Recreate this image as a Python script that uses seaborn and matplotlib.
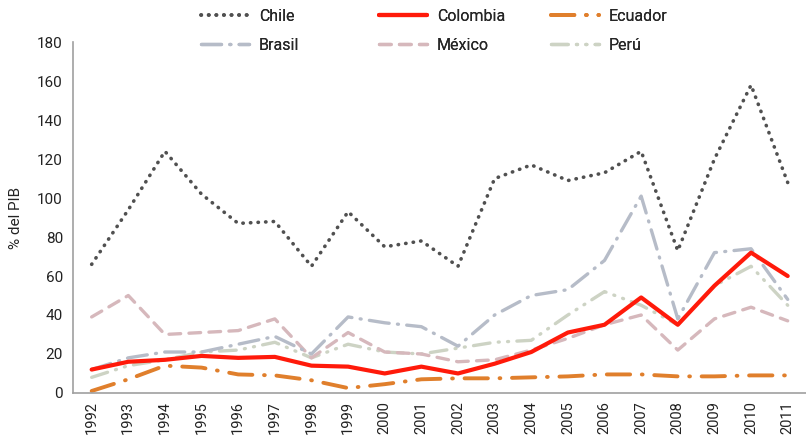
import numpy as np
import pandas as pd
import matplotlib
matplotlib.use("Agg")
import matplotlib.pyplot as plt
import seaborn as sns

years = list(range(1992, 2012))

chile    = [66, 94, 124, 102, 87, 88, 65, 93, 75, 78, 65, 110, 117, 109, 113, 124, 73, 120, 158, 108]
colombia = [12, 16, 17, 19, 18, 18.5, 14, 13.5, 10, 13.5, 10, 15, 21, 31, 35, 49, 35, 55, 72, 60]
ecuador  = [1, 7, 14, 13, 9.5, 9, 6.5, 2.5, 4.5, 7, 7.5, 7.5, 8, 8.5, 9.5, 9.5, 8.5, 8.5, 9, 9]
brasil   = [12, 18, 21, 21, 25, 29, 20, 39, 36, 34, 24, 40, 50, 53, 68, 101, 38, 72, 74, 48]
mexico   = [39, 50, 30, 31, 32, 38, 18, 31, 21, 20, 16, 17, 22, 28, 35, 40, 22, 38, 44, 37]
peru     = [8, 14, 17, 21, 22, 26, 18, 25, 21, 20, 23, 26, 27, 40, 52, 45, 35, 55, 65, 45]

series = {
    "Chile": chile,
    "Brasil": brasil,
    "Colombia": colombia,
    "México": mexico,
    "Ecuador": ecuador,
    "Perú": peru,
}

# estilo de cada serie
styles = {
    "Chile":    dict(color="#505050", lw=2.6, dashes=(0.1, 2.0)),
    "Brasil":   dict(color="#b6bcc8", lw=2.4, dashes=(6, 2.5, 0.3, 2.5)),
    "Colombia": dict(color="#ff1a0a", lw=3.0, dashes=None),
    "México":   dict(color="#d6b8bc", lw=2.4, dashes=(3.5, 2.5)),
    "Ecuador":  dict(color="#e07f2c", lw=2.8, dashes=(6, 3, 0.2, 3)),
    "Perú":     dict(color="#cdd3c4", lw=2.4, dashes=(5, 2.5, 0.3, 2.5, 0.3, 2.5)),
}

df = pd.DataFrame({"year": years, **series})
long = df.melt(id_vars="year", var_name="pais", value_name="valor")

sns.set_style("white")
plt.rcParams["font.family"] = ["Roboto", "DejaVu Sans"]

fig = plt.figure(figsize=(8.06, 4.44), dpi=100)
ax = fig.add_axes([0.091, 0.115, 0.909, 0.79])

draw_order = ["Perú", "México", "Brasil", "Ecuador", "Chile", "Colombia"]
for name in draw_order:
    st = styles[name]
    sns.lineplot(data=long[long["pais"] == name], x="year", y="valor",
                 color=st["color"], linewidth=st["lw"], ax=ax, label=name,
                 legend=False)
    line = ax.lines[-1]
    if st["dashes"] is not None:
        line.set_dashes(st["dashes"])
        line.set_dash_capstyle("round")
    else:
        line.set_solid_capstyle("round")

ax.set_xlim(1991.5, 2011.5)
ax.set_ylim(0, 180)
ax.set_yticks(range(0, 181, 20))
ax.set_xticks(years)
ax.set_xticklabels([str(y) for y in years], rotation=90)
ax.set_xticks(np.arange(1991.5, 2012, 1), minor=True)
ax.tick_params(axis="x", which="major", length=0, pad=6, labelsize=10.5, colors="#222222")
ax.tick_params(axis="x", which="minor", length=5, color="#a0a0a0", width=1)
ax.tick_params(axis="y", length=4, color="#a0a0a0", width=1, labelsize=11, colors="#222222")
ax.set_xlabel("")
ax.set_ylabel("% del PIB", fontsize=11, color="#222222", labelpad=10)

for side in ["top", "right"]:
    ax.spines[side].set_visible(False)
for side in ["left", "bottom"]:
    ax.spines[side].set_color("#a0a0a0")
    ax.spines[side].set_linewidth(1.2)

# leyenda: tres columnas colocadas a mano
handles = {l.get_label(): l for l in ax.lines}
columns = [(["Chile", "Brasil"], 0.2313),
           (["Colombia", "México"], 0.4521),
           (["Ecuador", "Perú"], 0.6655)]
for names, x0 in columns:
    leg = fig.legend([handles[n] for n in names], names, ncol=1, frameon=False,
                     loc="upper left", bbox_to_anchor=(x0, 1.012), fontsize=11.5,
                     handlelength=3.0, handletextpad=0.65, labelspacing=0.85)
    fig.add_artist(leg)

fig.savefig("out.png", dpi=100)
